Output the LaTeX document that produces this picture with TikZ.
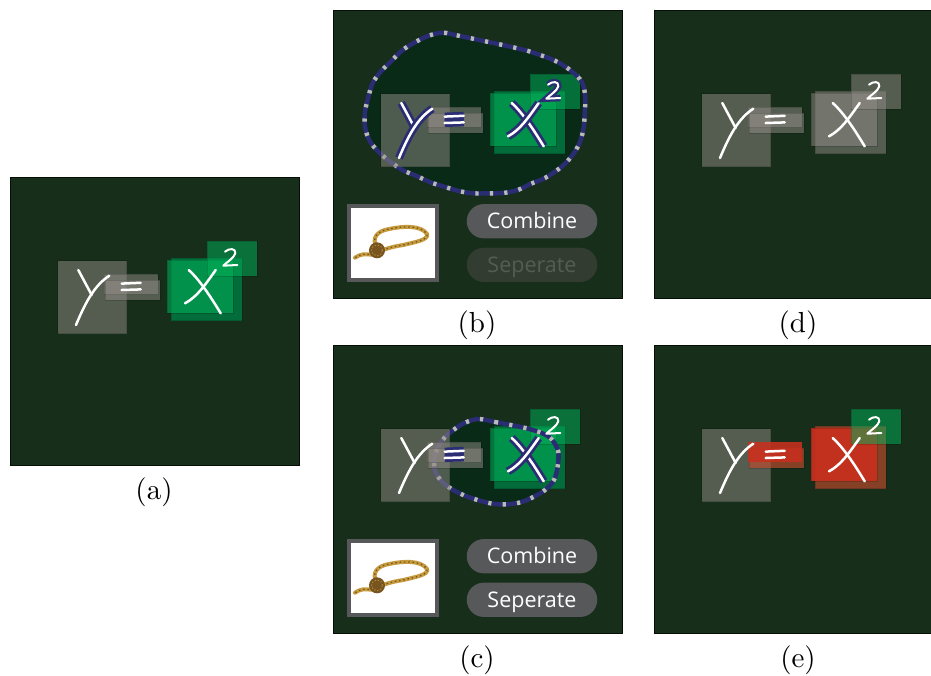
\documentclass[tikz,border=0pt]{standalone}
\usepackage{fontspec}
\setsansfont{Open Sans}
\font\capfont="[lmroman10-regular.otf]" at 29pt
\definecolor{panelbg}{RGB}{22,46,26}
\definecolor{lassofill}{RGB}{10,42,24}
\definecolor{hlblue}{RGB}{42,45,115}
\definecolor{dashgrey}{RGB}{185,188,182}
\definecolor{btnon}{RGB}{86,88,90}
\definecolor{btnoff}{RGB}{50,60,48}
\definecolor{btnofftext}{RGB}{84,94,80}
\definecolor{ropetan}{RGB}{198,155,62}
\definecolor{ropedark}{RGB}{120,85,32}
\definecolor{greyfill}{RGB}{146,140,134}
\definecolor{greenlt}{RGB}{0,170,85}
\definecolor{greendk}{RGB}{0,120,65}
\definecolor{greentop}{RGB}{0,180,90}
\definecolor{redlt}{RGB}{200,48,30}
\definecolor{reddk}{RGB}{198,75,45}
\tikzset{
  x=1pt,y=-1pt,
  panel/.style={draw=black!70!panelbg,line width=.4pt,fill=panelbg,minimum width=289pt,minimum height=288pt,inner sep=0pt,outer sep=0pt,anchor=north west},
  caption/.style={font=\capfont,inner sep=0pt},
  edged/.style={draw=black,draw opacity=.15,line width=.8pt},
  greybox/.style={edged,fill=greyfill,fill opacity=.5},
  xonegreen/.style={edged,fill=greenlt,fill opacity=.6},
  xtwogreen/.style={edged,fill=greendk,fill opacity=.85},
  twogreen/.style={edged,fill=greentop,fill opacity=.5},
  xonered/.style={edged,fill=redlt,fill opacity=.92},
  xtwored/.style={edged,fill=reddk,fill opacity=.63},
  eqredone/.style={fill=redlt,fill opacity=.88},
  eqredtwo/.style={edged,fill=reddk,fill opacity=.63},
  ink/.style={draw=white,line width=2.5pt,line cap=round,line join=round},
  inkhl/.style={ink,preaction={draw=hlblue,line width=8pt}},
  inktwo/.style={ink,line width=2pt},
  inktwohl/.style={inktwo,preaction={draw=hlblue,line width=6.5pt}},
  lassoline/.style={draw=hlblue,line width=4.4pt,line join=round},
  lassodash/.style={draw=dashgrey,line width=4.4pt,dash pattern=on 3.2pt off 11.25pt},
  frame/.style={draw=btnon,line width=4pt,fill=white},
  pill/.style={rounded corners=17pt,minimum width=130.5pt,minimum height=34.3pt,inner sep=0pt,text height=14.5pt,text depth=0pt,font=\sffamily\fontsize{21.5}{24}\selectfont},
  pillon/.style={pill,fill=btnon,text=white},
  pilloff/.style={pill,fill=btnoff,text=btnofftext},
  rope/.style={draw=ropetan,line width=4pt,line cap=round},
  ropetwist/.style={draw=ropedark,line width=1.3pt,dash pattern=on 1.5pt off 2.8pt},
}
\newcommand{\eqgreyrects}{%
  \path[greybox] (94.3,97) rectangle (148,117);
  \path[greybox] (95,103) rectangle (150,123);
}
\newcommand{\eqredrects}{%
  \path[eqredtwo] (95,103) rectangle (150,123);
  \path[eqredone] (94.3,97) rectangle (148,117);
}
% #1,#2,#3 rect styles of X and exponent; #4 lasso; #5 equals rectangles; #6-#9 ink styles
\newcommand{\formulaXY}[9]{%
  \path[#2] (161,81) rectangle (232,143.7);
  \path[#1] (157,83) rectangle (223,136);
  \path[#3] (197,64) rectangle (247,99);
  #4
  \path[greybox] (47.7,83.5) rectangle (116.7,156.7);
  #5
  \draw[#6] (68.3,93) -- (81.7,118);
  \draw[#6] (99.3,98.7) .. controls (85,108) and (76,124) .. (66,148);
  \draw[#7] (111.7,106.6) -- (130.7,105.8);
  \draw[#7] (111.7,113) -- (130.7,112.4);
  \draw[#8] (178.7,93) .. controls (190,103) and (202,122) .. (210.7,136.3);
  \draw[#8] (205.7,93) .. controls (195,108) and (187,120) .. (175,126.3);
  \draw[#9] (215,74.7) .. controls (219,71) and (226,71) .. (225.3,76.3) .. controls (224,81) and (217,85) .. (213.3,88.7) -- (227.3,88);
}
\newcommand{\ropeicon}{%
  \draw[frame] (16.3,196) rectangle (103.7,270.3);
  \def\ropeloop{(44,238) .. controls (38,228) and (44,221) .. (56,219) .. controls (70,216) and (88,215) .. (94,224) .. controls (96,230) and (82,232) .. (70.3,235) .. controls (64,236) and (58,237) .. (50,240)}
  \def\ropetail{(48.7,243.3) .. controls (42,246) and (36,244) .. (30.3,244.3) .. controls (27,245) and (24,246) .. (22,247.7)}
  \draw[rope] \ropeloop;
  \draw[ropetwist] \ropeloop;
  \draw[rope] \ropetail;
  \draw[ropetwist] \ropetail;
  \fill[ropedark] (44,240.3) circle (8pt);
  \draw[ropetan!80!ropedark,line width=.9pt,dash pattern=on 1.2pt off 2pt] (44,240.3) circle (5.5pt);
}
\begin{document}
\begin{tikzpicture}
\useasboundingbox (0,0) rectangle (931,675);
% ---------- (a)
\node[panel] (pa) at (10,177) {};
\begin{scope}[shift={(10,177)}]
  \formulaXY{xonegreen}{xtwogreen}{twogreen}{}{\eqgreyrects}{ink}{ink}{ink}{inktwo}
\end{scope}
\node[caption] (la) at (154,492) {(a)};
% ---------- (b)
\node[panel] (pb) at (333,10) {};
\begin{scope}[shift={(333,10)}]
  \def\lassob{plot[smooth cycle,tension=.55] coordinates {(109.7,22.7)(123.7,25.3)(152.3,31.3)(180.3,37.3)(194.3,40.7)(222,50.7)(238.3,61)(249,72.3)(252.3,87.3)(251.7,102.7)(250.7,117.3)(246.7,132.7)(239,145.7)(228.3,157)(212,168)(198,173.7)(184.7,180)(170,183)(155.3,183.3)(140,183.3)(125.7,181)(111.3,176.7)(97.3,172.3)(83.7,166)(70,160.3)(57.7,152)(46,142.3)(36.7,131)(32,117)(32,102)(35.3,87.3)(39.7,73)(48.3,61)(58.7,50.7)(69.3,40.3)(82,32.3)(95.7,25.7)}}
  \fill[lassofill] \lassob;
  \formulaXY{xonegreen}{xtwogreen}{twogreen}{\draw[lassoline] \lassob; \draw[lassodash] \lassob;}{\eqgreyrects}{inkhl}{inkhl}{inkhl}{inktwohl}
  \ropeicon
  \node[pillon] (b1) at (199,211.2) {Combine};
  \node[pilloff] (b2) at (199,254.8) {Seperate};
\end{scope}
\node[caption] (lb) at (477,325) {(b)};
% ---------- (c)
\node[panel] (pc) at (333,345) {};
\begin{scope}[shift={(333,345)}]
  \def\lassoc{plot[smooth cycle,tension=.55] coordinates {(145.7,74)(162,77)(178,80)(193.7,83.3)(208.7,88)(218.7,94.3)(225.3,106.7)(224.7,121)(221,135)(212,145)(201.7,151.3)(188.7,157)(174.3,159.3)(159.7,158.7)(145.7,155.3)(132,150.7)(119,144.3)(107.7,135.3)(101.3,123)(102.7,108.3)(109.3,95.3)(120,85.3)(132,77.7)}}
  \fill[lassofill] \lassoc;
  \formulaXY{xonegreen}{xtwogreen}{twogreen}{\draw[lassoline] \lassoc; \draw[lassodash] \lassoc;}{\eqgreyrects}{ink}{inkhl}{inkhl}{inktwo}
  \ropeicon
  \node[pillon] (c1) at (199,211.2) {Combine};
  \node[pillon] (c2) at (199,254.8) {Seperate};
\end{scope}
\node[caption] (lc) at (477,660) {(c)};
% ---------- (d)
\node[panel] (pd) at (654,10) {};
\begin{scope}[shift={(654,10)}]
  \formulaXY{greybox}{greybox}{greybox}{}{\eqgreyrects}{ink}{ink}{ink}{inktwo}
\end{scope}
\node[caption] (ld) at (798,325) {(d)};
% ---------- (e)
\node[panel] (pe) at (654,345) {};
\begin{scope}[shift={(654,345)}]
  \formulaXY{xonered}{xtwored}{twogreen}{}{\eqredrects}{ink}{ink}{ink}{inktwo}
\end{scope}
\node[caption] (le) at (798,660) {(e)};
\end{tikzpicture}
\end{document}
